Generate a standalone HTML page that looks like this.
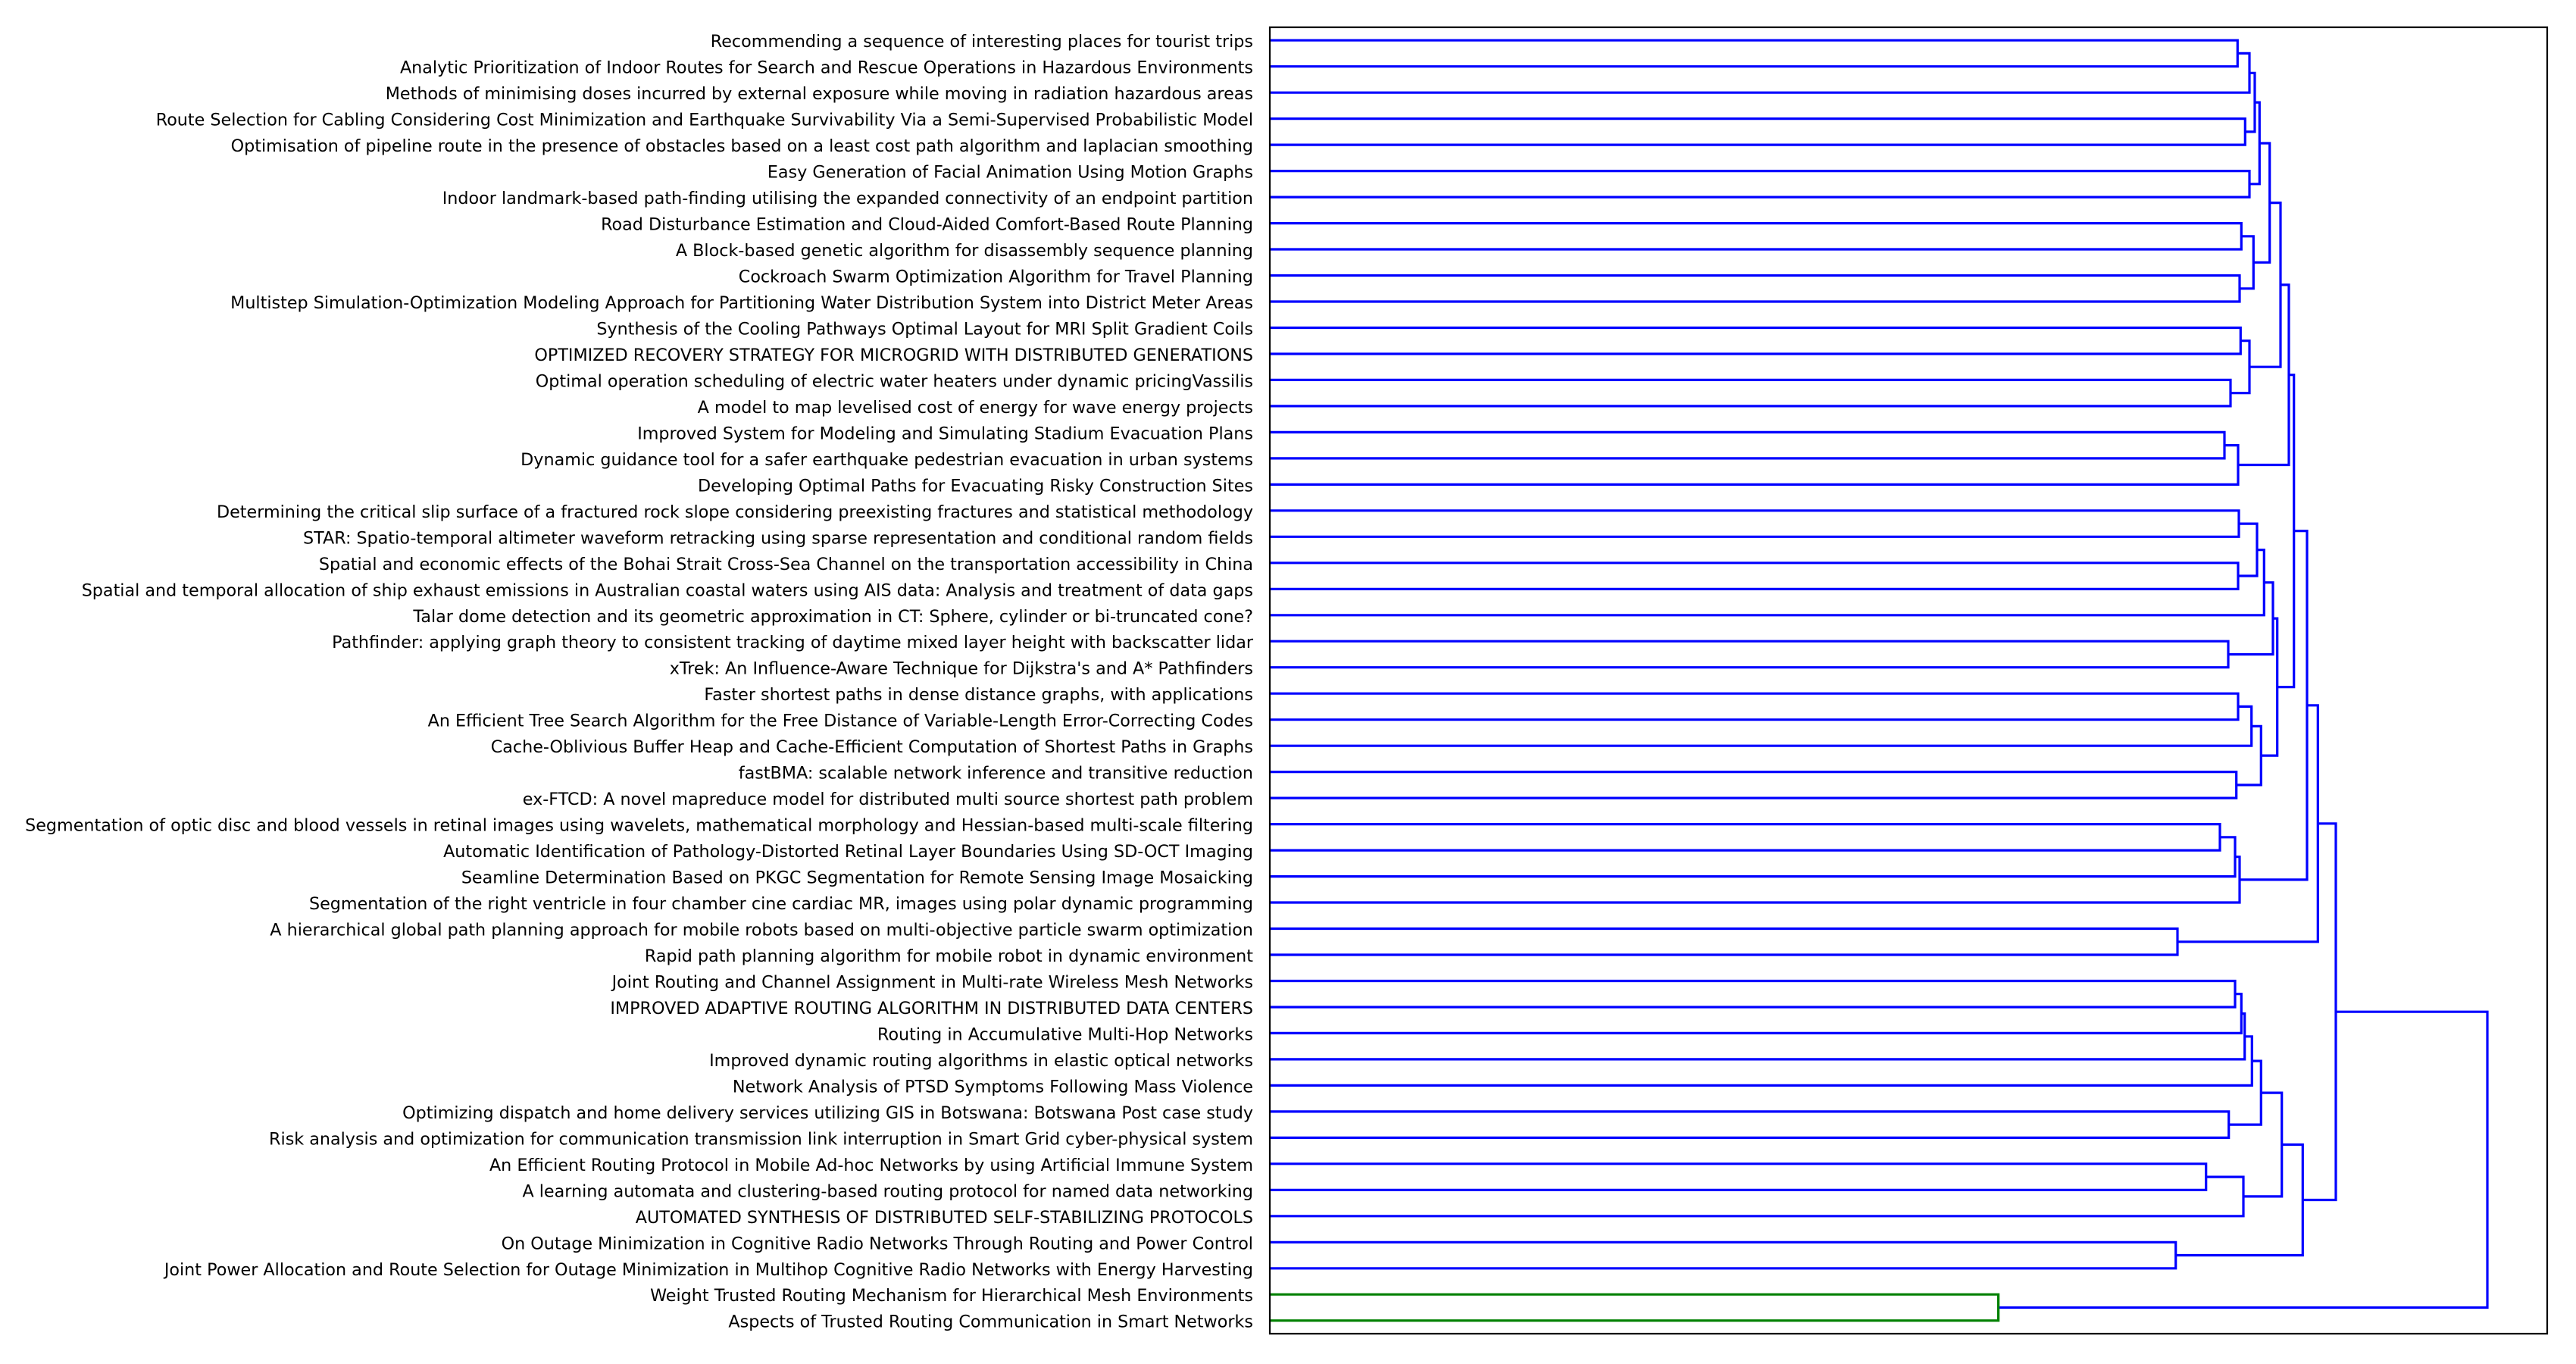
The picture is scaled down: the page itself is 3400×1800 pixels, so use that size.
<!DOCTYPE html>
<html><head><meta charset="utf-8"><style>
html,body{margin:0;padding:0;background:#fff;}
svg{display:block;}
text{font-family:"DejaVu Sans","Liberation Sans",sans-serif;font-size:22.25px;fill:#000;}
</style></head><body>
<svg width="3400" height="1800" viewBox="0 0 3400 1800" xmlns="http://www.w3.org/2000/svg">
<rect width="3400" height="1800" fill="#fff"/>
<g fill="none" stroke="#0000ff" stroke-width="3.2" stroke-linejoin="miter">
<path d="M1676 53.2 H2953.3 V87.7 H1676"/>
<path d="M2953.3 70.4 H2969 V122.2 H1676"/>
<path d="M1676 156.6 H2963.3 V191.1 H1676"/>
<path d="M2969 96.3 H2976 V173.9 H2963.3"/>
<path d="M1676 225.6 H2969 V260.1 H1676"/>
<path d="M2976 135.1 H2982.3 V242.8 H2969"/>
<path d="M1676 294.6 H2958.3 V329 H1676"/>
<path d="M1676 363.5 H2956 V398 H1676"/>
<path d="M2958.3 311.8 H2974.3 V380.8 H2956"/>
<path d="M2982.3 189 H2995.7 V346.3 H2974.3"/>
<path d="M1676 432.5 H2957.3 V467 H1676"/>
<path d="M1676 501.4 H2944 V535.9 H1676"/>
<path d="M2957.3 449.7 H2969 V518.7 H2944"/>
<path d="M2995.7 267.6 H3010 V484.2 H2969"/>
<path d="M1676 570.4 H2936 V604.9 H1676"/>
<path d="M2936 587.6 H2954 V639.4 H1676"/>
<path d="M3010 375.9 H3021 V613.5 H2954"/>
<path d="M1676 673.8 H2955 V708.3 H1676"/>
<path d="M1676 742.8 H2954 V777.3 H1676"/>
<path d="M2955 691.1 H2979 V760 H2954"/>
<path d="M2979 725.6 H2988.3 V811.8 H1676"/>
<path d="M1676 846.2 H2941 V880.7 H1676"/>
<path d="M2988.3 768.7 H3000 V863.5 H2941"/>
<path d="M1676 915.2 H2954 V949.7 H1676"/>
<path d="M2954 932.4 H2971.7 V984.2 H1676"/>
<path d="M1676 1018.6 H2951.7 V1053.1 H1676"/>
<path d="M2971.7 958.3 H2984.3 V1035.9 H2951.7"/>
<path d="M3000 816.1 H3005.7 V997.1 H2984.3"/>
<path d="M3021 494.7 H3027.7 V906.6 H3005.7"/>
<path d="M1676 1087.6 H2930 V1122.1 H1676"/>
<path d="M2930 1104.8 H2950 V1156.6 H1676"/>
<path d="M2950 1130.7 H2956 V1191 H1676"/>
<path d="M3027.7 700.6 H3045 V1160.9 H2956"/>
<path d="M1676 1225.5 H2874 V1260 H1676"/>
<path d="M3045 930.8 H3059.3 V1242.8 H2874"/>
<path d="M1676 1294.5 H2950 V1329 H1676"/>
<path d="M2950 1311.7 H2958.3 V1363.4 H1676"/>
<path d="M2958.3 1337.6 H2962.7 V1397.9 H1676"/>
<path d="M2962.7 1367.8 H2972.3 V1432.4 H1676"/>
<path d="M1676 1466.9 H2941.7 V1501.4 H1676"/>
<path d="M2972.3 1400.1 H2984.3 V1484.1 H2941.7"/>
<path d="M1676 1535.8 H2911.7 V1570.3 H1676"/>
<path d="M2911.7 1553.1 H2961 V1604.8 H1676"/>
<path d="M2984.3 1442.1 H3011.7 V1578.9 H2961"/>
<path d="M1676 1639.3 H2871.7 V1673.8 H1676"/>
<path d="M3011.7 1510.5 H3039.3 V1656.5 H2871.7"/>
<path d="M3059.3 1086.8 H3083 V1583.5 H3039.3"/>
<path d="M3083 1335.2 H3283 V1725.5 H2637.6"/>
</g>
<path d="M1676 1708.2 H2637.6 V1742.7 H1676" fill="none" stroke="#008000" stroke-width="3.2"/>
<rect x="1676" y="36" width="1686" height="1724" fill="none" stroke="#000" stroke-width="2.2"/>
<g text-anchor="end" dominant-baseline="central" transform="translate(0,2)">
<text x="1654" y="53.2">Recommending a sequence of interesting places for tourist trips</text>
<text x="1654" y="87.7">Analytic Prioritization of Indoor Routes for Search and Rescue Operations in Hazardous Environments</text>
<text x="1654" y="122.2">Methods of minimising doses incurred by external exposure while moving in radiation hazardous areas</text>
<text x="1654" y="156.6">Route Selection for Cabling Considering Cost Minimization and Earthquake Survivability Via a Semi-Supervised Probabilistic Model</text>
<text x="1654" y="191.1">Optimisation of pipeline route in the presence of obstacles based on a least cost path algorithm and laplacian smoothing</text>
<text x="1654" y="225.6">Easy Generation of Facial Animation Using Motion Graphs</text>
<text x="1654" y="260.1">Indoor landmark-based path-finding utilising the expanded connectivity of an endpoint partition</text>
<text x="1654" y="294.6">Road Disturbance Estimation and Cloud-Aided Comfort-Based Route Planning</text>
<text x="1654" y="329">A Block-based genetic algorithm for disassembly sequence planning</text>
<text x="1654" y="363.5">Cockroach Swarm Optimization Algorithm for Travel Planning</text>
<text x="1654" y="398">Multistep Simulation-Optimization Modeling Approach for Partitioning Water Distribution System into District Meter Areas</text>
<text x="1654" y="432.5">Synthesis of the Cooling Pathways Optimal Layout for MRI Split Gradient Coils</text>
<text x="1654" y="467">OPTIMIZED RECOVERY STRATEGY FOR MICROGRID WITH DISTRIBUTED GENERATIONS</text>
<text x="1654" y="501.4">Optimal operation scheduling of electric water heaters under dynamic pricingVassilis</text>
<text x="1654" y="535.9">A model to map levelised cost of energy for wave energy projects</text>
<text x="1654" y="570.4">Improved System for Modeling and Simulating Stadium Evacuation Plans</text>
<text x="1654" y="604.9">Dynamic guidance tool for a safer earthquake pedestrian evacuation in urban systems</text>
<text x="1654" y="639.4">Developing Optimal Paths for Evacuating Risky Construction Sites</text>
<text x="1654" y="673.8">Determining the critical slip surface of a fractured rock slope considering preexisting fractures and statistical methodology</text>
<text x="1654" y="708.3">STAR: Spatio-temporal altimeter waveform retracking using sparse representation and conditional random fields</text>
<text x="1654" y="742.8">Spatial and economic effects of the Bohai Strait Cross-Sea Channel on the transportation accessibility in China</text>
<text x="1654" y="777.3">Spatial and temporal allocation of ship exhaust emissions in Australian coastal waters using AIS data: Analysis and treatment of data gaps</text>
<text x="1654" y="811.8">Talar dome detection and its geometric approximation in CT: Sphere, cylinder or bi-truncated cone?</text>
<text x="1654" y="846.2">Pathfinder: applying graph theory to consistent tracking of daytime mixed layer height with backscatter lidar</text>
<text x="1654" y="880.7">xTrek: An Influence-Aware Technique for Dijkstra's and A* Pathfinders</text>
<text x="1654" y="915.2">Faster shortest paths in dense distance graphs, with applications</text>
<text x="1654" y="949.7">An Efficient Tree Search Algorithm for the Free Distance of Variable-Length Error-Correcting Codes</text>
<text x="1654" y="984.2">Cache-Oblivious Buffer Heap and Cache-Efficient Computation of Shortest Paths in Graphs</text>
<text x="1654" y="1018.6">fastBMA: scalable network inference and transitive reduction</text>
<text x="1654" y="1053.1">ex-FTCD: A novel mapreduce model for distributed multi source shortest path problem</text>
<text x="1654" y="1087.6">Segmentation of optic disc and blood vessels in retinal images using wavelets, mathematical morphology and Hessian-based multi-scale filtering</text>
<text x="1654" y="1122.1">Automatic Identification of Pathology-Distorted Retinal Layer Boundaries Using SD-OCT Imaging</text>
<text x="1654" y="1156.6">Seamline Determination Based on PKGC Segmentation for Remote Sensing Image Mosaicking</text>
<text x="1654" y="1191">Segmentation of the right ventricle in four chamber cine cardiac MR, images using polar dynamic programming</text>
<text x="1654" y="1225.5">A hierarchical global path planning approach for mobile robots based on multi-objective particle swarm optimization</text>
<text x="1654" y="1260">Rapid path planning algorithm for mobile robot in dynamic environment</text>
<text x="1654" y="1294.5">Joint Routing and Channel Assignment in Multi-rate Wireless Mesh Networks</text>
<text x="1654" y="1329">IMPROVED ADAPTIVE ROUTING ALGORITHM IN DISTRIBUTED DATA CENTERS</text>
<text x="1654" y="1363.4">Routing in Accumulative Multi-Hop Networks</text>
<text x="1654" y="1397.9">Improved dynamic routing algorithms in elastic optical networks</text>
<text x="1654" y="1432.4">Network Analysis of PTSD Symptoms Following Mass Violence</text>
<text x="1654" y="1466.9">Optimizing dispatch and home delivery services utilizing GIS in Botswana: Botswana Post case study</text>
<text x="1654" y="1501.4">Risk analysis and optimization for communication transmission link interruption in Smart Grid cyber-physical system</text>
<text x="1654" y="1535.8">An Efficient Routing Protocol in Mobile Ad-hoc Networks by using Artificial Immune System</text>
<text x="1654" y="1570.3">A learning automata and clustering-based routing protocol for named data networking</text>
<text x="1654" y="1604.8">AUTOMATED SYNTHESIS OF DISTRIBUTED SELF-STABILIZING PROTOCOLS</text>
<text x="1654" y="1639.3">On Outage Minimization in Cognitive Radio Networks Through Routing and Power Control</text>
<text x="1654" y="1673.8">Joint Power Allocation and Route Selection for Outage Minimization in Multihop Cognitive Radio Networks with Energy Harvesting</text>
<text x="1654" y="1708.2">Weight Trusted Routing Mechanism for Hierarchical Mesh Environments</text>
<text x="1654" y="1742.7">Aspects of Trusted Routing Communication in Smart Networks</text>
</g>
</svg>
</body></html>
